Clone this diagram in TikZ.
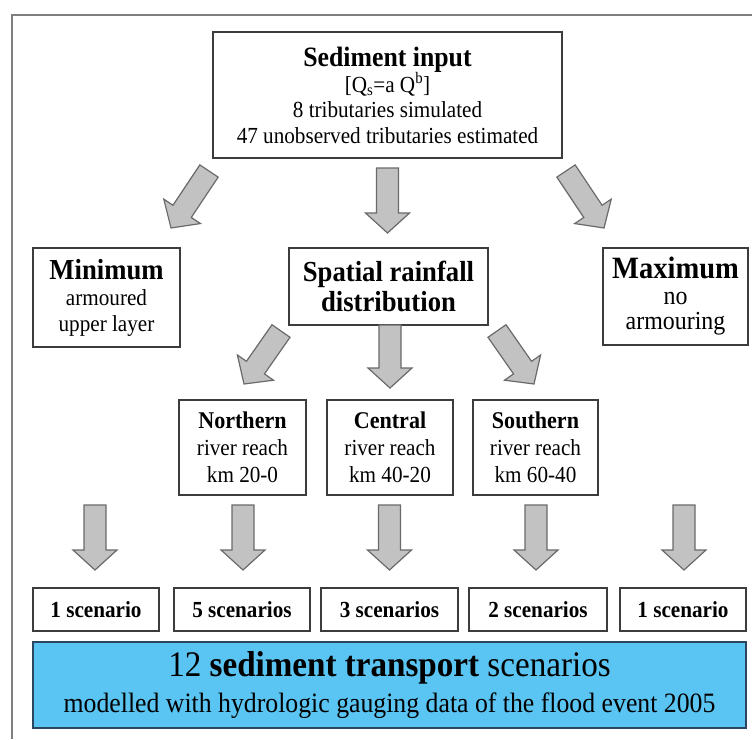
\documentclass[tikz,border=0pt]{standalone}
\usepackage{fontspec}
\setmainfont{Liberation Serif}[FakeStretch=0.92]
\usetikzlibrary{calc}
\definecolor{boxline}{HTML}{3C3C3C}
\definecolor{arrfill}{HTML}{C2C2C2}
\definecolor{arrline}{HTML}{6A6A6A}
\definecolor{bluefill}{HTML}{5AC4F2}
\definecolor{blueline}{HTML}{2A4660}
\definecolor{frameline}{HTML}{7F7F7F}
\newcommand{\fsz}[2]{\fontsize{#1}{#2}\selectfont}
\newcommand{\blockarrow}[2]{%
  \coordinate (hb) at ($(#2)!20pt!(#1)$);
  \draw[blockarr] ($(#1)!11pt!90:(#2)$) -- ($(hb)!11pt!90:(#2)$) -- ($(hb)!22pt!90:(#2)$) -- (#2)
     -- ($(hb)!22pt!-90:(#2)$) -- ($(hb)!11pt!-90:(#2)$) -- ($(#1)!11pt!-90:(#2)$) -- cycle;}
\begin{document}
\begin{tikzpicture}[x=1pt,y=-1pt,
  box/.style={draw=boxline, line width=1.3pt, fill=white, align=center, inner sep=0pt},
  blockarr/.style={draw=arrline, fill=arrfill, line width=1.2pt, line join=miter},
  scen/.style={box, minimum height=43pt, font=\fsz{23}{26}\bfseries}]
\useasboundingbox (0,0) rectangle (752,739);
\draw[frameline, line width=1.5pt] (12,739) -- (12,15) -- (752,15);

\node[box, minimum width=349pt, minimum height=126pt, font=\fsz{23}{25.5}] (sed) at (387.5,95)
  {{\fsz{28}{29}\bfseries Sediment input}\\[-1pt] [Q\textsubscript{s}=a Q\textsuperscript{b}]\\ 8 tributaries simulated\\ 47 unobserved tributaries estimated};

\node[box, minimum width=147pt, minimum height=99pt, font=\fsz{23}{26}] (min) at (106.5,297.5)
  {{\fsz{29}{30}\bfseries Minimum}\\ armoured\\ upper layer};
\node[box, minimum width=199pt, minimum height=77pt, font=\fsz{29}{30}\bfseries] (spat) at (388.5,286.5)
  {Spatial rainfall\\ distribution};
\node[box, minimum width=145pt, minimum height=97pt, font=\fsz{26}{25.5}] (max) at (675.5,296.5)
  {{\fsz{31}{31}\bfseries Maximum}\\ no\\ armouring};

\node[box, minimum width=127pt, minimum height=95pt, font=\fsz{23}{27}] (north) at (242.5,447.5)
  {{\fsz{24}{27}\bfseries Northern}\\ river reach\\ km 20-0};
\node[box, minimum width=126pt, minimum height=95pt, font=\fsz{23}{27}] (cent) at (390,447.5)
  {{\fsz{24}{27}\bfseries Central}\\ river reach\\ km 40-20};
\node[box, minimum width=125pt, minimum height=95pt, font=\fsz{23}{27}] (south) at (535.5,447.5)
  {{\fsz{24}{27}\bfseries Southern}\\ river reach\\ km 60-40};

\node[scen, minimum width=126pt] (s1) at (96,609.5) {1 scenario};
\node[scen, minimum width=136pt] (s2) at (242,609.5) {5 scenarios};
\node[scen, minimum width=137pt] (s3) at (389.5,609.5) {3 scenarios};
\node[scen, minimum width=138pt] (s4) at (538,609.5) {2 scenarios};
\node[scen, minimum width=126pt] (s5) at (683,609.5) {1 scenario};

\node[box, draw=blueline, fill=bluefill, minimum width=713pt, minimum height=86pt, font=\fsz{28}{36}] (res) at (389.5,685)
  {{\fsz{36}{38}12 \textbf{sediment transport} scenarios}\\ modelled with hydrologic gauging data of the flood event 2005};

% arrow end points
\coordinate (a1s) at (387.5,168); \coordinate (a1e) at (387.5,233);
\coordinate (a2s) at (209,171);   \coordinate (a2e) at (171,228);
\coordinate (a3s) at (566,171);   \coordinate (a3e) at (604,228);
\coordinate (a4s) at (390,325);   \coordinate (a4e) at (390,388);
\coordinate (a5s) at (281,331);   \coordinate (a5e) at (244,384);
\coordinate (a6s) at (497,331);   \coordinate (a6e) at (534,384);
\coordinate (b1s) at (95,505);    \coordinate (b1e) at (95,570);
\coordinate (b2s) at (243,505);   \coordinate (b2e) at (243,570);
\coordinate (b3s) at (389.5,505); \coordinate (b3e) at (389.5,570);
\coordinate (b4s) at (536,505);   \coordinate (b4e) at (536,570);
\coordinate (b5s) at (684,505);   \coordinate (b5e) at (684,570);

\blockarrow{a1s}{a1e}
\blockarrow{a2s}{a2e}
\blockarrow{a3s}{a3e}
\blockarrow{a4s}{a4e}
\blockarrow{a5s}{a5e}
\blockarrow{a6s}{a6e}
\blockarrow{b1s}{b1e}
\blockarrow{b2s}{b2e}
\blockarrow{b3s}{b3e}
\blockarrow{b4s}{b4e}
\blockarrow{b5s}{b5e}
\end{tikzpicture}
\end{document}
